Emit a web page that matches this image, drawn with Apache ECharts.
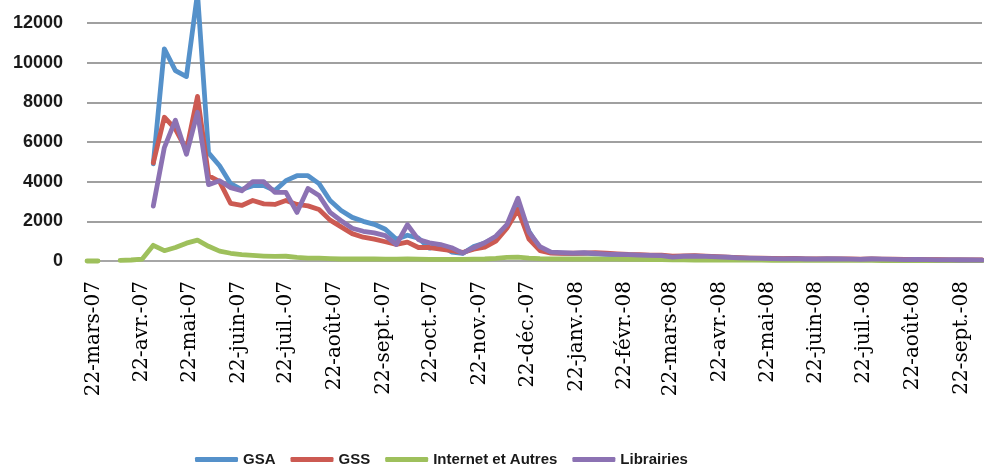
<!DOCTYPE html>
<html>
<head>
<meta charset="utf-8">
<script src="https://cdn.jsdelivr.net/npm/echarts@6/dist/echarts.min.js"></script>
<style>
html,body{margin:0;padding:0;background:#fff;}
#c{width:984px;height:468px;}
</style>
</head>
<body>
<div id="c"></div>
<script>
const dates = [
'2007-03-18','2007-03-25','2007-04-01','2007-04-08','2007-04-15','2007-04-22','2007-04-29',
'2007-05-06','2007-05-13','2007-05-20','2007-05-27','2007-06-03','2007-06-10','2007-06-17','2007-06-24',
'2007-07-01','2007-07-08','2007-07-15','2007-07-22','2007-07-29','2007-08-05','2007-08-12','2007-08-19','2007-08-26',
'2007-09-02','2007-09-09','2007-09-16','2007-09-23','2007-09-30','2007-10-07','2007-10-14','2007-10-21','2007-10-28',
'2007-11-04','2007-11-11','2007-11-18','2007-11-25','2007-12-02','2007-12-09','2007-12-16','2007-12-23','2007-12-30',
'2008-01-06','2008-01-13','2008-01-20','2008-01-27','2008-02-03','2008-02-10','2008-02-17','2008-02-24',
'2008-03-02','2008-03-09','2008-03-16','2008-03-23','2008-03-30','2008-04-06','2008-04-13','2008-04-20','2008-04-27',
'2008-05-04','2008-05-11','2008-05-18','2008-05-25','2008-06-01','2008-06-08','2008-06-15','2008-06-22','2008-06-29',
'2008-07-06','2008-07-13','2008-07-20','2008-07-27','2008-08-03','2008-08-10','2008-08-17','2008-08-24','2008-08-31',
'2008-09-07','2008-09-14','2008-09-21','2008-09-28','2008-10-05'
];

const gsa = [null,null,null,null,null,null,
4900,10700,9600,9300,13500, 5450,4800,3900,3600,3800, 3800,3550,4050,4300,4300, 3900,3050,2550,2200,2000,
1850,1600,1100,1300,1150, 650,800,450,380,730, 910,1200,1750,2800,1500, 600,
420,400,380,400,360, 330,310,300,280,260, 250,220,230,240,220, 200,180,150,130,120,
110,100,120,90,90, 100,90,80,80,90, 80,70,70,70,60, 60,50,50,40,40];

const gss = [null,null,null,null,null,null,
4950,7250,6650,5600,8300, 4300,4000,2900,2800,3050, 2880,2850,3050,2850,2780, 2600,2060,1720,1380,1200,
1100,970,840,950,680, 680,600,520,430,600, 700,1000,1650,2600,1100, 520,
400,380,390,400,420, 400,360,330,320,300, 290,250,260,270,240, 220,200,170,150,140,
130,120,130,110,100, 110,100,100,90,100, 90,90,80,80,70, 70,60,60,50,50];

const internet = [0,0,null,30,50,100,
790,520,680,900,1050, 740,500,390,320,280, 250,230,240,180,150, 140,120,100,110,100,
100,90,90,100,90, 80,80,80,80,90, 100,130,180,200,150, 120,
110,110,100,100,100, 90,90,80,80,70, 70,60,60,50,50, 50,40,40,40,40,
30,30,30,30,30, 30,30,30,30,30, 20,20,20,20,20, 20,20,20,20,20];

const librairies = [null,null,null,null,null,null,
2770,5720,7100,5380,7500, 3850,4050,3700,3540,4000, 4000,3460,3460,2450,3660, 3300,2450,2030,1650,1500,
1420,1280,830,1830,1080, 920,830,670,400,670, 920,1250,1830,3170,1450, 720,
450,420,400,420,380, 350,330,320,300,280, 270,200,240,250,230, 210,190,160,140,130,
120,110,120,100,90, 110,100,90,80,100, 90,80,70,80,70, 60,60,50,50,40];

const tickDates = ['2007-03-22','2007-04-22','2007-05-22','2007-06-22','2007-07-22','2007-08-22','2007-09-22',
'2007-10-22','2007-11-22','2007-12-22','2008-01-22','2008-02-22','2008-03-22','2008-04-22','2008-05-22',
'2008-06-22','2008-07-22','2008-08-22','2008-09-22'];
const tickLabels = ['22-mars-07','22-avr.-07','22-mai-07','22-juin-07','22-juil.-07','22-août-07','22-sept.-07',
'22-oct.-07','22-nov.-07','22-déc.-07','22-janv.-08','22-févr.-08','22-mars-08','22-avr.-08','22-mai-08',
'22-juin-08','22-juil.-08','22-août-08','22-sept.-08'];

const yTicks = [0,2000,4000,6000,8000,10000,12000];

const seriesNames = ['GSA','GSS','Internet et Autres','Librairies'];
const seriesColors = ['#5591CA','#CC5A52','#9EC05C','#8C72B3'];

const DAY = 86400000;
function dayNum(s){ const p = s.split('-').map(Number); return Date.UTC(p[0], p[1]-1, p[2]) / DAY; }
const xs = dates.map(dayNum);
const tickX = tickDates.map(dayNum);
function pairs(vals){ return vals.map((v,i)=>[xs[i], v]); }

const chart = echarts.init(document.getElementById('c'), null, {renderer:'canvas'});
const allVals = [gsa, gss, internet, librairies];
chart.setOption({
  animation:false,
  backgroundColor:'#ffffff',
  color: seriesColors,
  grid:{left:87, right:2, top:0, bottom:207, containLabel:false},
  legend:{
    data: seriesNames,
    left:190, top:447,
    icon:'roundRect', itemWidth:43, itemHeight:5, itemGap:15,
    textStyle:{fontFamily:"'Liberation Sans',sans-serif", fontWeight:'bold', fontSize:15, color:'#1a1a1a'}
  },
  xAxis:{
    type:'value',
    min: xs[0], max: xs[xs.length-1],
    axisLine:{show:true, lineStyle:{color:'#a6a6a6', width:2}},
    axisTick:{show:false},
    splitLine:{show:false},
    axisLabel:{
      customValues: tickX,
      rotate:90, margin:20,
      fontFamily:"'DejaVu Serif','Liberation Serif',serif", fontSize:20, color:'#000',
      formatter:function(v){ const i = tickX.findIndex(t=>Math.abs(t-v)<0.5); return i>=0 ? tickLabels[i] : ''; }
    }
  },
  yAxis:{
    type:'value', min:0, max:13160,
    axisLine:{show:false}, axisTick:{show:false, customValues: yTicks},
    splitLine:{lineStyle:{color:'#a0a0a0', width:2}},
    axisLabel:{customValues: yTicks, margin:24, fontFamily:"'Liberation Sans',sans-serif", fontWeight:'bold', fontSize:18, color:'#1a1a1a',
      formatter:function(v){ return String(v); }}
  },
  series: seriesNames.map((n,k)=>({
    name:n, type:'line', data: pairs(allVals[k]),
    showSymbol:false, symbol:'none', connectNulls:false, clip:false,
    lineStyle:{width:4.8, color:seriesColors[k], cap:'round', join:'round'},
    emphasis:{disabled:true}
  }))
});
</script>
</body>
</html>
